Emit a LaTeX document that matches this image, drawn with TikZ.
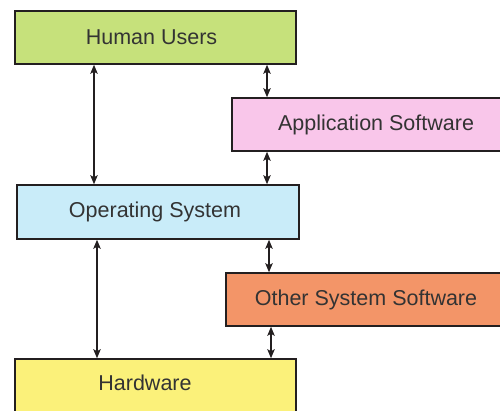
\documentclass[tikz,border=0pt]{standalone}
\usepackage{fontspec}
\setmainfont{Liberation Sans}
\usetikzlibrary{arrows.meta}
\definecolor{cgreen}{HTML}{C6E17B}
\definecolor{cpink}{HTML}{F9C6EA}
\definecolor{cblue}{HTML}{C9ECF9}
\definecolor{corange}{HTML}{F39568}
\definecolor{cyellow}{HTML}{FBF17A}
\definecolor{cline}{HTML}{231F20}
\definecolor{ctext}{HTML}{333333}
\begin{document}
\begin{tikzpicture}[x=1pt,y=-1pt,
  txt/.style={font=\fontsize{21.5}{24}\selectfont,text=ctext},
  layer/.style={draw=cline,line width=1.6pt,rectangle,inner sep=0pt,txt},
  link/.style={{Stealth[length=9pt,width=7.5pt,inset=2pt]}-{Stealth[length=9pt,width=7.5pt,inset=2pt]},line width=1.1pt,draw=cline}]
\useasboundingbox (0,0) rectangle (500,410);
\clip (0,0) rectangle (500,410);
\node[layer,fill=cgreen,minimum width=281pt,minimum height=53pt] (hu) at (155.5,37.5) {Human Users\hspace*{8pt}};
\node[layer,fill=cpink,minimum width=288pt,minimum height=53pt] (app) at (376,124.5) {Application Software};
\node[layer,fill=cblue,minimum width=282pt,minimum height=54pt] (os) at (158,212) {Operating System\hspace*{6pt}};
\node[layer,fill=corange,minimum width=280pt,minimum height=53pt] (oss) at (366,299.5) {Other System Software};
\node[layer,fill=cyellow,minimum width=281pt,minimum height=54pt] (hw) at (155.5,386) {};
\node[txt,inner sep=0pt] (hwt) at (145,383) {Hardware};
\draw[link] (hu.south -| 94,0) -- (os.north -| 94,0);
\draw[link] (hu.south -| 267,0) -- (app.north -| 267,0);
\draw[link] (app.south -| 267,0) -- (os.north -| 267,0);
\draw[link] (os.south -| 97,0) -- (hw.north -| 97,0);
\draw[link] (os.south -| 269,0) -- (oss.north -| 269,0);
\draw[link] (oss.south -| 271,0) -- (hw.north -| 271,0);
\end{tikzpicture}
\end{document}
